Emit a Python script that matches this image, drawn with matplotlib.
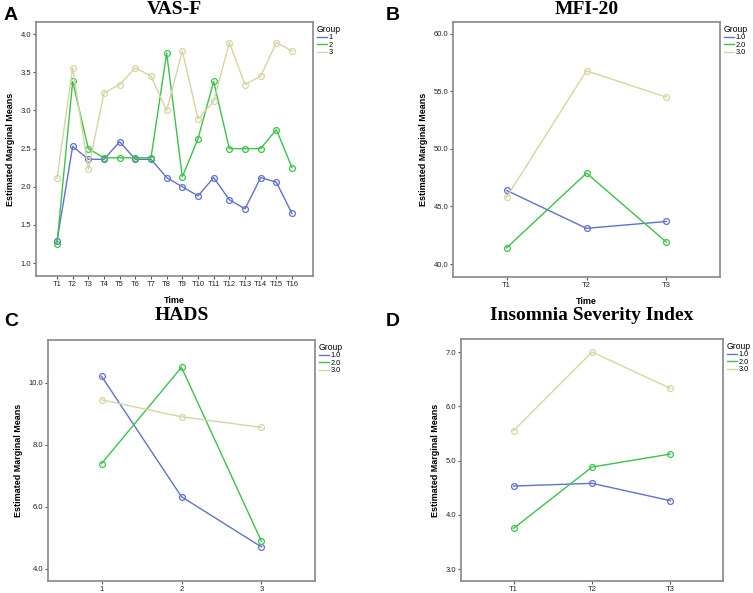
import matplotlib.pyplot as plt
from matplotlib.ticker import FormatStrFormatter

# data (estimated marginal means)
vas_times = ['T%d' % i for i in range(1, 17)]
vas_g1 = [1.29, 2.53, 2.36, 2.36, 2.59, 2.36, 2.36, 2.12, 2.00, 1.88, 2.12, 1.83, 1.71, 2.12, 2.06, 1.65]
vas_g2 = [1.25, 3.38, 2.50, 2.38, 2.38, 2.38, 2.38, 3.75, 2.13, 2.63, 3.38, 2.50, 2.50, 2.50, 2.75, 2.25]
vas_g3 = [2.11, 3.56, 2.23, 3.23, 3.34, 3.56, 3.45, 3.00, 3.78, 2.89, 3.12, 3.89, 3.34, 3.45, 3.89, 3.78]

mfi_times = ['T1', 'T2', 'T3']
mfi_g1 = [46.4, 43.1, 43.7]
mfi_g2 = [41.4, 47.9, 41.9]
mfi_g3 = [45.8, 56.8, 54.5]

hads_times = ['1', '2', '3']
hads_g1 = [10.21, 6.32, 4.70]
hads_g2 = [7.39, 10.50, 4.88]
hads_g3 = [9.45, 8.90, 8.56]

isi_times = ['T1', 'T2', 'T3']
isi_g1 = [4.53, 4.58, 4.26]
isi_g2 = [3.75, 4.88, 5.12]
isi_g3 = [5.55, 7.00, 6.33]

colors = ['#5f72cc', '#3cc24c', '#d8d4a2']
W, H = 753, 593

fig = plt.figure(figsize=(W / 100, H / 100), dpi=100)
plt.rcParams['font.family'] = ['Liberation Sans', 'DejaVu Sans']


def make_ax(l, r, t, b):
    return fig.add_axes([l / W, 1 - b / H, (r - l) / W, (b - t) / H])


def draw(ax, labels, series, names, yticks, ylim, title, title_y, xlabel):
    x = list(range(1, len(labels) + 1))
    for vals, c, n in zip(series, colors, names):
        ax.plot(x, vals, color=c, lw=1.0, marker='o', ms=4.2, mfc='none',
                mec=c, mew=0.9, label=n)
    pad = 1.34 if len(labels) > 3 else 0.67
    ax.set_xlim(1 - pad, len(labels) + pad)
    ax.set_xticks(x)
    ax.set_xticklabels(labels)
    ax.set_yticks(yticks)
    ax.set_ylim(*ylim)
    ax.yaxis.set_major_formatter(FormatStrFormatter('%.1f'))
    ax.tick_params(labelsize=5.5, length=2.5, width=0.8, colors='#555555',
                   labelcolor='#222222', pad=1)
    for s in ax.spines.values():
        s.set_color('#888888')
        s.set_linewidth(1.2)
    ax.set_ylabel('Estimated Marginal Means', fontsize=6.5, fontweight='bold', labelpad=4)
    if xlabel:
        ax.set_xlabel('Time', fontsize=6.5, fontweight='bold', labelpad=6)
    # title placed in figure pixels, centred over the frame
    pos = ax.get_position()
    fig.text(pos.x0 + pos.width / 2, 1 - title_y / H, title, fontsize=14,
             fontweight='bold', family='Liberation Serif', ha='center', va='center')
    leg = ax.legend(loc='upper left', bbox_to_anchor=(1.005, 1.0), frameon=False,
                    title='Group', fontsize=5.3, title_fontsize=6.2, handlelength=1.4,
                    handletextpad=0.2, labelspacing=0.05, borderaxespad=0.15,
                    borderpad=0.2, alignment='left')
    for h in leg.legend_handles:
        h.set_marker('')
    return ax


axA = make_ax(36, 313, 22, 276)
draw(axA, vas_times, [vas_g1, vas_g2, vas_g3], ['1', '2', '3'],
     [1.0, 1.5, 2.0, 2.5, 3.0, 3.5, 4.0], (0.83, 4.16), 'VAS-F', 10, True)

axB = make_ax(453, 720, 22, 277)
draw(axB, mfi_times, [mfi_g1, mfi_g2, mfi_g3], ['1.0', '2.0', '3.0'],
     [40, 45, 50, 55, 60], (38.87, 61.04), 'MFI-20', 10, True)

axC = make_ax(48, 315, 340, 581)
draw(axC, hads_times, [hads_g1, hads_g2, hads_g3], ['1.0', '2.0', '3.0'],
     [4, 6, 8, 10], (3.6, 11.38), 'HADS', 315, False)

axD = make_ax(461, 723, 339, 581)
draw(axD, isi_times, [isi_g1, isi_g2, isi_g3], ['1.0', '2.0', '3.0'],
     [3, 4, 5, 6, 7], (2.78, 7.24), 'Insomnia Severity Index', 315, False)

for letter, px, py in [('A', 4, 16), ('B', 386, 16), ('C', 4, 321), ('D', 386, 321)]:
    fig.text(px / W, 1 - py / H, letter, fontsize=14, fontweight='bold', va='center')

fig.savefig('out.png', dpi=100)
